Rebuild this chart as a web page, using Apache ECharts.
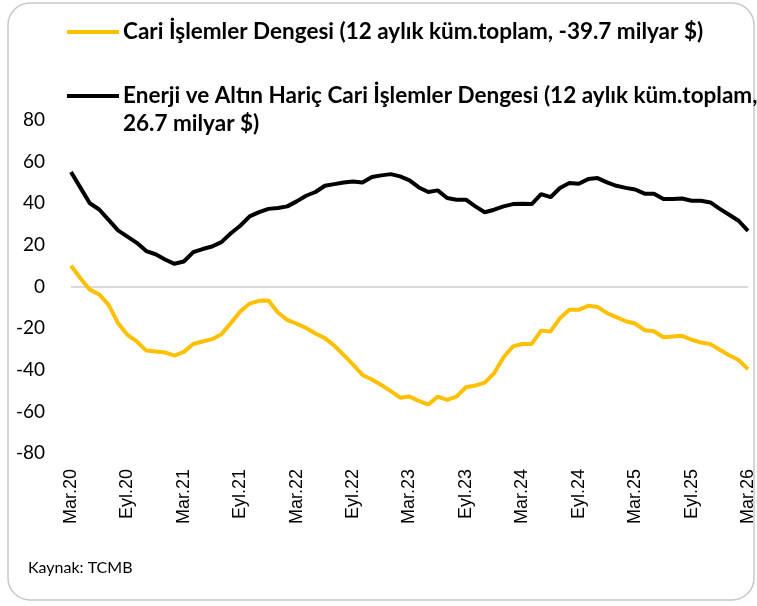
<!DOCTYPE html>
<html>
<head>
<meta charset="utf-8">
<script src="https://cdn.jsdelivr.net/npm/echarts@6/dist/echarts.min.js"></script>
<style>
  html, body { margin: 0; padding: 0; background: #fff; }
  #chart { width: 757px; height: 606px; }
</style>
</head>
<body>
<div id="chart"></div>
<script>
// aylar: Mar.20 - Mar.26
var monthNames = ["Oca", "Şub", "Mar", "Nis", "May", "Haz", "Tem", "Ağu", "Eyl", "Eki", "Kas", "Ara"];
var categories = [];
for (var y = 20; y <= 26; y++) {
    for (var m = 0; m < 12; m++) {
        if (y == 20 && m < 2) continue;
        if (y == 26 && m > 2) continue;
        categories.push(monthNames[m] + "." + y);
    }
}

var seriesNames = [
    "Cari İşlemler Dengesi (12 aylık küm.toplam, -39.7 milyar $)",
    "Enerji ve Altın Hariç Cari İşlemler Dengesi (12 aylık küm.toplam,\n26.7 milyar $)"
];

// Cari işlemler dengesi (milyar $)
var cariValues = [
    10, 4, -1.5, -3.8, -8.8, -17.6, -23.2, -26.4, -30.8, -31.2, -31.7, -33.2,
    -31.4, -27.6, -26.4, -25.3, -22.9, -17.6, -12, -8.2, -6.9, -6.7, -12.5, -16,
    -17.9, -19.9, -22.6, -24.8, -28.4, -32.9, -37.5, -42.5, -44.7, -47.3, -50.3, -53.4,
    -52.9, -55, -56.7, -52.9, -54.5, -52.9, -48.4, -47.6, -46.2, -41.7, -34, -28.8,
    -27.6, -27.6, -21.2, -21.6, -15.2, -11.2, -11.2, -9.3, -9.8, -12.8, -14.7, -16.7,
    -17.8, -21, -21.5, -24.4, -24, -23.7, -25.6, -26.9, -27.7, -30.4, -33, -35.3,
    -39.7
];

// Enerji ve altın hariç cari işlemler dengesi (milyar $)
var enerjiHaricValues = [
    55, 47.5, 40, 37, 32, 27, 24, 21, 17, 15.5, 13, 10.9,
    12, 16.5, 18, 19.2, 21.3, 25.6, 29.2, 33.7, 35.7, 37.3, 37.7, 38.5,
    40.9, 43.6, 45.4, 48.4, 49.2, 50, 50.5, 50, 52.6, 53.4, 54, 52.9,
    51, 47.6, 45.4, 46.2, 42.5, 41.7, 41.7, 38.5, 35.7, 36.9, 38.5, 39.6,
    39.8, 39.6, 44.4, 42.9, 47.3, 49.7, 49.4, 51.6, 52.1, 50, 48.4, 47.4,
    46.6, 44.6, 44.6, 42, 42.1, 42.3, 41.2, 41.2, 40.4, 37.3, 34.5, 31.6,
    26.7
];

var yTicks = { min: -80, max: 80, interval: 20 };

var labelFont = "Lato, 'Liberation Sans', sans-serif";

var chart = echarts.init(document.getElementById("chart"), null, { renderer: "canvas" });

var option = {
    animation: false,
    backgroundColor: "#fff",
    grid: { left: 71, right: 5, top: 120, bottom: 153, containLabel: false },
    xAxis: {
        type: "category",
        data: categories,
        boundaryGap: false,
        axisLine: { show: false },
        axisTick: { show: false },
        splitLine: { show: false },
        axisLabel: {
            interval: 5,
            rotate: 90,
            margin: 16,
            color: "#000",
            fontSize: 18,
            fontFamily: "'Liberation Sans', Arial, sans-serif"
        }
    },
    yAxis: {
        type: "value",
        min: yTicks.min,
        max: yTicks.max,
        interval: yTicks.interval,
        axisLine: { show: false },
        axisTick: { show: false },
        splitLine: { show: false },
        axisLabel: {
            margin: 26,
            color: "#000",
            fontSize: 19,
            fontFamily: labelFont
        }
    },
    series: [
        {
            name: seriesNames[0],
            type: "line",
            data: cariValues,
            symbol: "none",
            lineStyle: { color: "#FFC000", width: 4 },
            itemStyle: { color: "#FFC000" },
            z: 3,
            // sıfır çizgisi
            markLine: {
                silent: true,
                symbol: "none",
                label: { show: false },
                lineStyle: { color: "#d9d9d9", width: 2, type: "solid" },
                data: [{ yAxis: 0 }],
                z: 1
            }
        },
        {
            name: seriesNames[1],
            type: "line",
            data: enerjiHaricValues,
            symbol: "none",
            lineStyle: { color: "#000", width: 4 },
            itemStyle: { color: "#000" },
            z: 4
        }
    ],
    graphic: [
        // çerçeve
        {
            type: "rect",
            silent: true,
            shape: { x: 8, y: 3, width: 746, height: 597, r: 22 },
            style: { fill: null, stroke: "#c8c8c8", lineWidth: 1.5 },
            z: -1
        },
        // lejant
        {
            type: "line",
            shape: { x1: 67, y1: 32, x2: 119, y2: 32 },
            style: { stroke: "#FFC000", lineWidth: 4 }
        },
        {
            type: "text",
            x: 123,
            y: 32,
            style: {
                text: seriesNames[0],
                fill: "#000",
                verticalAlign: "middle",
                font: "bold 22.5px " + labelFont
            }
        },
        {
            type: "line",
            shape: { x1: 67, y1: 96, x2: 119, y2: 96 },
            style: { stroke: "#000", lineWidth: 4 }
        },
        {
            type: "text",
            x: 123,
            y: 82,
            style: {
                text: seriesNames[1],
                fill: "#000",
                lineHeight: 28,
                verticalAlign: "top",
                font: "bold 22.5px " + labelFont
            }
        },
        // kaynak
        {
            type: "text",
            x: 28,
            y: 568,
            style: {
                text: "Kaynak: TCMB",
                fill: "#000",
                verticalAlign: "middle",
                font: "16px " + labelFont
            }
        }
    ]
};

chart.setOption(option);
</script>
</body>
</html>
